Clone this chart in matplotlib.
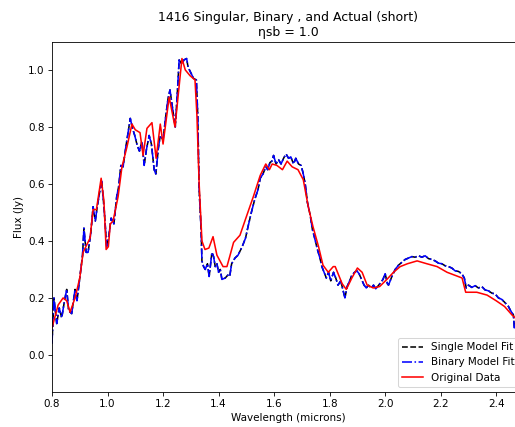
import matplotlib
matplotlib.use('Agg')
import matplotlib.pyplot as plt
import numpy as np

wl_obs = [0.800, 0.822, 0.840, 0.853, 0.865, 0.883, 0.900, 0.912, 0.937, 0.948,
          0.960, 0.977, 0.987, 0.995, 1.003, 1.010, 1.020, 1.038, 1.052, 1.070,
          1.088, 1.100, 1.117, 1.128, 1.142, 1.160, 1.175, 1.190, 1.200, 1.222,
          1.243, 1.268, 1.280, 1.297, 1.315, 1.322, 1.330, 1.340, 1.351, 1.365,
          1.380, 1.394, 1.416, 1.430, 1.440, 1.454, 1.477, 1.500, 1.525, 1.550,
          1.570, 1.583, 1.593, 1.610, 1.630, 1.647, 1.665, 1.686, 1.705, 1.723,
          1.740, 1.760, 1.776, 1.795, 1.813, 1.820, 1.845, 1.860, 1.880, 1.900,
          1.917, 1.935, 1.957, 1.980, 2.006, 2.030, 2.054, 2.080, 2.115, 2.150,
          2.187, 2.223, 2.277, 2.290, 2.330, 2.367, 2.400, 2.430, 2.457, 2.475]
flux_obs = [0.095, 0.175, 0.200, 0.190, 0.150, 0.200, 0.270, 0.360, 0.410, 0.510,
            0.510, 0.620, 0.540, 0.370, 0.380, 0.460, 0.470, 0.555, 0.660, 0.730,
            0.810, 0.790, 0.780, 0.700, 0.795, 0.815, 0.690, 0.810, 0.740, 0.905,
            0.800, 1.040, 1.000, 0.980, 0.965, 0.840, 0.600, 0.400, 0.370, 0.375,
            0.415, 0.350, 0.310, 0.310, 0.345, 0.395, 0.420, 0.485, 0.555, 0.630,
            0.670, 0.650, 0.670, 0.665, 0.650, 0.680, 0.660, 0.650, 0.615, 0.520,
            0.450, 0.380, 0.315, 0.290, 0.310, 0.310, 0.250, 0.230, 0.270, 0.305,
            0.290, 0.245, 0.235, 0.240, 0.265, 0.290, 0.310, 0.320, 0.330, 0.320,
            0.310, 0.290, 0.270, 0.220, 0.220, 0.210, 0.190, 0.170, 0.140, 0.125]

# model fits
wl_mod = [0.800, 0.807, 0.817, 0.826, 0.835, 0.845, 0.853, 0.860, 0.871, 0.883,
          0.890, 0.900, 0.910, 0.915, 0.923, 0.930, 0.940, 0.948, 0.956, 0.963,
          0.973, 0.979, 0.988, 0.997, 1.005, 1.013, 1.023, 1.033, 1.040, 1.048,
          1.056, 1.066, 1.074, 1.082, 1.090, 1.098, 1.107, 1.115, 1.124, 1.132,
          1.140, 1.150, 1.158, 1.168, 1.174, 1.183, 1.190, 1.200, 1.210, 1.218,
          1.225, 1.235, 1.244, 1.252, 1.258, 1.268, 1.275, 1.285, 1.290, 1.300,
          1.310, 1.320, 1.325, 1.330, 1.337, 1.340, 1.346, 1.352, 1.360, 1.366,
          1.376, 1.382, 1.388, 1.394, 1.400, 1.406, 1.412, 1.424, 1.433, 1.440,
          1.447, 1.459, 1.470, 1.485, 1.497, 1.506, 1.518, 1.530, 1.542, 1.550,
          1.560, 1.570, 1.577, 1.585, 1.592, 1.598, 1.607, 1.616, 1.625, 1.634,
          1.643, 1.652, 1.660, 1.670, 1.678, 1.688, 1.697, 1.704, 1.712, 1.720,
          1.730, 1.738, 1.746, 1.756, 1.765, 1.772, 1.780, 1.788, 1.796, 1.804,
          1.814, 1.822, 1.830, 1.840, 1.855, 1.863, 1.872, 1.880, 1.890, 1.898,
          1.906, 1.915, 1.924, 1.932, 1.940, 1.950, 1.958, 1.966, 1.975, 1.985,
          1.992, 2.000, 2.008, 2.012, 2.024, 2.036, 2.048, 2.060, 2.072, 2.084,
          2.096, 2.108, 2.120, 2.132, 2.144, 2.156, 2.168, 2.180, 2.192, 2.204,
          2.216, 2.228, 2.240, 2.252, 2.264, 2.276, 2.285, 2.292, 2.300, 2.312,
          2.324, 2.336, 2.348, 2.360, 2.372, 2.384, 2.396, 2.408, 2.420, 2.432,
          2.444, 2.452, 2.462, 2.465, 2.475]
single_fit = [0.040, 0.200, 0.110, 0.165, 0.130, 0.190, 0.230, 0.155, 0.145, 0.230,
              0.190, 0.270, 0.350, 0.445, 0.360, 0.360, 0.430, 0.520, 0.470, 0.520,
              0.580, 0.610, 0.510, 0.380, 0.420, 0.480, 0.460, 0.555, 0.590, 0.665,
              0.660, 0.730, 0.780, 0.830, 0.795, 0.770, 0.735, 0.715, 0.750, 0.665,
              0.720, 0.770, 0.740, 0.650, 0.635, 0.725, 0.770, 0.755, 0.840, 0.900,
              0.930, 0.860, 0.800, 0.930, 1.035, 1.020, 1.035, 1.040, 1.010, 0.990,
              0.970, 0.965, 0.840, 0.580, 0.440, 0.330, 0.310, 0.300, 0.320, 0.275,
              0.360, 0.345, 0.310, 0.320, 0.290, 0.300, 0.265, 0.270, 0.280, 0.275,
              0.320, 0.340, 0.350, 0.380, 0.410, 0.450, 0.500, 0.545, 0.580, 0.620,
              0.635, 0.660, 0.650, 0.675, 0.680, 0.700, 0.670, 0.685, 0.670, 0.690,
              0.705, 0.690, 0.695, 0.670, 0.690, 0.670, 0.665, 0.640, 0.600, 0.535,
              0.490, 0.440, 0.410, 0.370, 0.340, 0.310, 0.290, 0.270, 0.290, 0.260,
              0.290, 0.270, 0.245, 0.260, 0.200, 0.240, 0.260, 0.280, 0.290, 0.295,
              0.285, 0.265, 0.245, 0.235, 0.245, 0.235, 0.245, 0.232, 0.243, 0.255,
              0.265, 0.285, 0.250, 0.245, 0.275, 0.300, 0.315, 0.325, 0.335, 0.340,
              0.345, 0.343, 0.348, 0.343, 0.348, 0.338, 0.335, 0.330, 0.322, 0.320,
              0.313, 0.310, 0.305, 0.295, 0.293, 0.285, 0.270, 0.235, 0.245, 0.237,
              0.243, 0.235, 0.240, 0.228, 0.225, 0.217, 0.214, 0.200, 0.195, 0.183,
              0.170, 0.155, 0.140, 0.095, 0.130]
binary_fit = list(single_fit)

# small dpi so default font sizes come out like the (scaled-down) original
fig = plt.figure(figsize=(515/75, 427/75), dpi=75)
ax = fig.add_axes([52/515, 35/427, (524-52)/515, 350/427])

ax.plot(wl_mod, single_fit, 'k--', label='Single Model Fit')
ax.plot(wl_mod, binary_fit, 'b-.', label='Binary Model Fit')
ax.plot(wl_obs, flux_obs, 'r-', label='Original Data')

ax.set_xlim(0.8, 2.5)
ax.set_ylim(-0.13, 1.098)
ax.set_xticks(np.arange(0.8, 2.41, 0.2))
ax.set_xlabel('Wavelength (microns)')
ax.set_ylabel('Flux (Jy)')
ax.set_title('1416 Singular, Binary , and Actual (short)\n\u03b7sb = 1.0')
ax.legend(loc='lower right')

fig.savefig('out.png', dpi=75)
